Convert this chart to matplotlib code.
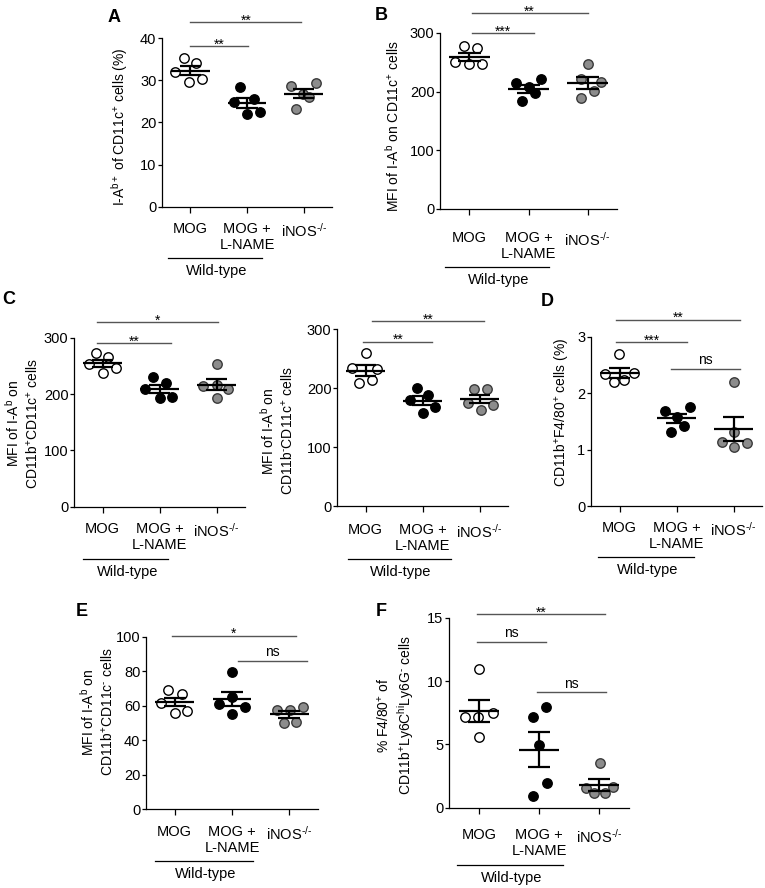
import numpy as np
import matplotlib
matplotlib.use('Agg')
from matplotlib import pyplot as plt
from matplotlib import transforms

plt.rcParams['font.family'] = ['Liberation Sans', 'DejaVu Sans']
plt.rcParams['mathtext.fontset'] = 'custom'
plt.rcParams['mathtext.rm'] = 'Liberation Sans'
plt.rcParams['mathtext.it'] = 'Liberation Sans:italic'
plt.rcParams['mathtext.bf'] = 'Liberation Sans:bold'
plt.rcParams['mathtext.default'] = 'regular'

HY = '\u2010'  # short hyphen for the superscripts
groups = ['MOG', 'MOG +\nL-NAME', 'iNOS$^{' + HY + '/' + HY + '}$']

# values, 5 mice per group (MOG, MOG + L-NAME, iNOS-/-)
a_mog = [35.2, 34.0, 32.0, 30.3, 29.7]
a_lname = [28.3, 25.5, 24.9, 22.6, 22.0]
a_inos = [29.3, 28.7, 26.7, 26.0, 23.2]

b_mog = [277.7, 273.7, 250, 247, 247]
b_lname = [221, 214, 208, 197, 184.5]
b_inos = [248, 221.5, 217, 201.5, 188.6]

c1_mog = [272.3, 265, 252.8, 245.6, 236.8]
c1_lname = [230.8, 220, 208.4, 194, 192.4]
c1_inos = [252.8, 216, 214, 208.4, 192.4]

c2_mog = [260.3, 233.8, 232, 214, 208.3]
c2_lname = [199.8, 188.5, 180, 167.5, 157.4]
c2_inos = [198, 198, 175.4, 171.5, 163]

d_mog = [2.69, 2.35, 2.34, 2.23, 2.19]
d_lname = [1.75, 1.69, 1.58, 1.42, 1.32]
d_inos = [2.2, 1.32, 1.14, 1.11, 1.05]

e_mog = [69, 66.7, 61.7, 57.1, 55.9]
e_lname = [79.7, 64.8, 60.9, 59, 55.1]
e_inos = [59, 57.5, 57.5, 50.7, 50.1]

f_mog = [10.92, 7.5, 7.13, 7.13, 5.6]
f_lname = [7.92, 7.13, 4.95, 1.97, 0.92]
f_inos = [3.55, 1.61, 1.53, 1.13, 1.13]

# horizontal scatter of the dots (category units), same order as values
a_jit = [[-0.12, 0.10, -0.27, 0.21, -0.02], [-0.12, 0.12, -0.23, 0.23, 0], [0.22, -0.23, -0.01, 0.1, -0.13]]
b_jit = [[-0.1, 0.12, -0.24, -0.01, 0.21], [0.22, -0.22, 0, 0.11, -0.11], [0, -0.11, 0.23, 0.11, -0.11]]
c1_jit = [[-0.11, 0.09, -0.23, 0.24, 0], [-0.12, 0.12, -0.25, 0.22, 0], [0, 0, -0.24, 0.2, 0]]
c2_jit = [[0, -0.23, 0.2, 0.11, -0.12], [-0.1, 0.1, -0.22, 0.22, 0], [-0.1, 0.13, -0.21, 0.23, 0.02]]
d_jit = [[-0.01, 0.25, -0.25, 0.08, -0.09], [0.23, -0.21, 0.01, 0.13, -0.1], [0, 0, -0.21, 0.23, 0]]
e_jit = [[-0.12, 0.12, -0.23, 0.22, 0], [0, 0, -0.22, 0.23, 0], [0.24, -0.22, 0.02, 0.12, -0.1]]
f_jit = [[0, 0.23, -0.23, -0.01, 0], [0.12, -0.1, 0, 0.13, -0.1], [0.02, 0.24, -0.21, -0.08, 0.1]]

W, H = 765, 888
fig = plt.figure(figsize=(W / 100, H / 100), dpi=100)

fills = ['white', 'black', '#8c8c8c']
edges = ['black', 'black', '#3a3a3a']


def px(x, y):
    return x / W, 1 - y / H


def dot_panel(box, data, jit, yticks, sigs, wt, lab_off):
    l, r, t, b = box
    ax = fig.add_axes([l / W, 1 - b / H, (r - l) / W, (b - t) / H])
    hpx = b - t
    for i, vals in enumerate(data):
        vals = np.array(vals)
        xs = i + np.array(jit[i])
        ax.plot(xs, vals, 'o', ms=6.8, mfc=fills[i], mec=edges[i], mew=1.0,
                zorder=2, clip_on=False)
        m = vals.mean()
        sem = vals.std(ddof=1) / np.sqrt(len(vals))
        ax.hlines(m, i - 0.34, i + 0.34, color='black', lw=1.6, zorder=3)
        ax.hlines([m - sem, m + sem], i - 0.19, i + 0.19, color='black', lw=1.6, zorder=3)
        ax.vlines(i, m - sem, m + sem, color='black', lw=1.6, zorder=3)
    ax.set_xlim(-0.5, 2.5)
    ax.set_ylim(0, yticks[-1])
    ax.set_yticks(yticks)
    ax.set_xticks(range(3))
    ax.set_xticklabels(groups, fontsize=10.5, linespacing=1.2)
    ax.spines['top'].set_visible(False)
    ax.spines['right'].set_visible(False)
    for s in ['left', 'bottom']:
        ax.spines[s].set_linewidth(0.9)
    ax.tick_params(axis='y', length=3, width=0.9, labelsize=10.5, pad=1)
    ax.tick_params(axis='x', length=4, width=0.9, pad=(lab_off - 8) / 1.389 - 2.9)
    # significance bars
    for x0, x1, y, lab in sigs:
        ax.plot([x0, x1], [y, y], color='#555555', lw=1, clip_on=False)
        if lab == 'ns':
            ax.annotate(lab, ((x0 + x1) / 2, y), xytext=(0, 3.5), textcoords='offset points',
                        ha='center', va='baseline', fontsize=10, annotation_clip=False)
        else:
            ax.annotate(lab, ((x0 + x1) / 2, y), xytext=(0, -1.8), textcoords='offset points',
                        ha='center', va='baseline', fontsize=10, annotation_clip=False)
    # wild-type bracket under the first two groups
    tr = transforms.blended_transform_factory(ax.transData, ax.transAxes)
    yl = -(lab_off + 30) / hpx
    ax.plot([wt[0], wt[1]], [yl, yl], color='black', lw=0.9, transform=tr, clip_on=False)
    ax.text((wt[0] + wt[1]) / 2 + 0.03, -(lab_off + 43) / hpx, 'Wild-type', transform=tr,
            ha='center', va='center', fontsize=10.5)
    return ax


def ylab(x, y, s):
    fig.text(*px(x, y), s, rotation=90, ha='center', va='center', fontsize=10,
             multialignment='center', linespacing=1.2)


def letter(x, y, s):
    fig.text(*px(x, y), s, ha='center', va='center', fontsize=13, fontweight='bold')


# A
dot_panel((162, 332, 38, 207), [a_mog, a_lname, a_inos], a_jit, [0, 10, 20, 30, 40],
          [(0, 1.02, 38.1, '**'), (0, 1.96, 43.8, '**')], (-0.39, 1.26), 21)
ylab(120, 127, 'I-A$^{b+}$ of CD11c$^{+}$ cells (%)')
letter(114, 18, 'A')

# B
dot_panel((440, 617, 33, 209), [b_mog, b_lname, b_inos], b_jit, [0, 100, 200, 300],
          [(0.04, 1.1, 300, '***'), (0.04, 2.0, 334, '**')], (-0.42, 1.35), 28)
ylab(393, 126, 'MFI of I-A$^{b}$ on CD11c$^{+}$ cells')
letter(381, 16, 'B')

# C left
dot_panel((74, 245, 337.7, 506.7), [c1_mog, c1_lname, c1_inos], c1_jit, [0, 100, 200, 300],
          [(-0.1, 1.2, 290, '**'), (-0.1, 2.03, 328, '*')], (-0.34, 1.15), 22)
ylab(22, 423, 'MFI of I-A$^{b}$ on\nCD11b$^{+}$CD11c$^{+}$ cells')
letter(9, 299, 'C')

# C right
dot_panel((337, 508, 329.3, 506), [c2_mog, c2_lname, c2_inos], c2_jit, [0, 100, 200, 300],
          [(-0.04, 1.17, 279, '**'), (0.11, 2.08, 314, '**')], (-0.31, 1.5), 23)
ylab(277, 431, 'MFI of I-A$^{b}$ on\nCD11b$^{' + HY + '}$CD11c$^{+}$ cells')

# D
dot_panel((591, 762, 336.7, 506), [d_mog, d_lname, d_inos], d_jit, [0, 1, 2, 3],
          [(-0.06, 1.18, 2.9, '***'), (-0.06, 2.11, 3.3, '**'), (0.9, 2.11, 2.43, 'ns')],
          (-0.38, 1.31), 21)
ylab(562, 412, 'CD11b$^{+}$F4/80$^{+}$ cells (%)')
letter(547, 301, 'D')

# E
dot_panel((146, 318, 636.7, 809), [e_mog, e_lname, e_inos], e_jit, [0, 20, 40, 60, 80, 100],
          [(-0.04, 2.11, 100.6, '*'), (1.1, 2.3, 85.9, 'ns')], (-0.34, 1.36), 22)
ylab(97, 712, 'MFI of I-A$^{b}$ on\nCD11b$^{+}$CD11c$^{' + HY + '}$ cells')
letter(82, 611, 'E')

# F
dot_panel((449, 629, 617.7, 807.7), [f_mog, f_lname, f_inos], f_jit, [0, 5, 10, 15],
          [(-0.03, 2.1, 15.3, '**'), (-0.03, 1.12, 13.1, 'ns'), (0.97, 2.12, 9.1, 'ns')],
          (-0.37, 1.4), 27)
ylab(396, 715, '% F4/80$^{+}$ of\nCD11b$^{+}$Ly6C$^{hi}$Ly6G$^{' + HY + '}$ cells')
letter(381, 611, 'F')

fig.savefig('out.png', dpi=100)
